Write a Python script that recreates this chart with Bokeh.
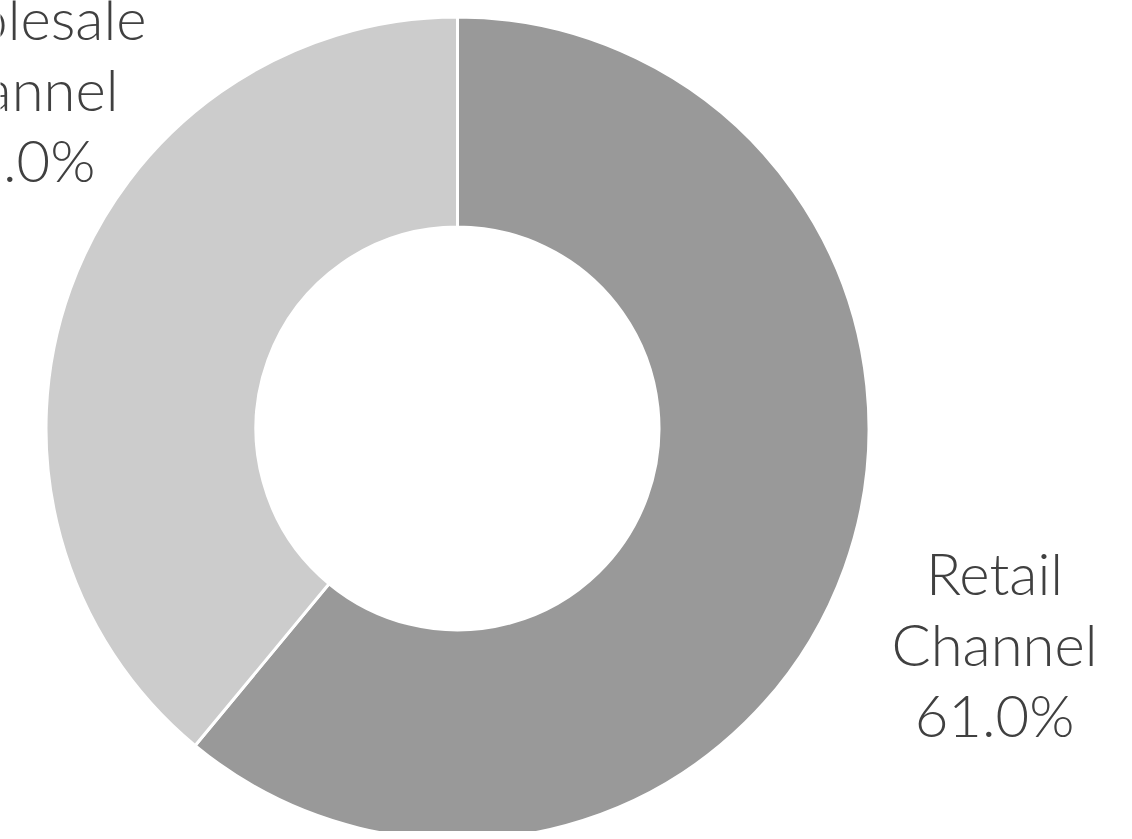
from bokeh.plotting import figure
from bokeh.models import Range1d, ColumnDataSource
from bokeh.core.properties import value
from bokeh.embed import file_html
from bokeh.resources import INLINE
import math

# ---- data ----
categories = ["Retail Channel", "Wholesale Channel"]
shares = [61.0, 39.0]
colors = ["#999999", "#cccccc"]

# ---- layout (screen-like coordinates) ----
W, H = 1124, 831
CX, CY_SCREEN = 457, 428
R_OUT, R_IN = 411.5, 201.5
LABEL_POS = [(994, 595), (15, 40)]   # first-line baseline, screen coords
LINE_STEP = 71
TEXT_DY = -23
FONT = "Lato Light"
FONT_SIZE = "58px"


def sy(y_screen):
    return H - y_screen


p = figure(width=W, height=H, output_backend="svg", toolbar_location=None,
           x_range=Range1d(0, W), y_range=Range1d(0, H),
           min_border=0, outline_line_color=None, background_fill_color="white",
           border_fill_color="white")
p.axis.visible = False
p.grid.visible = False

total = sum(shares)
start = math.pi / 2
starts, ends = [], []
for v in shares:
    sweep = 2 * math.pi * v / total
    ends.append(start)
    starts.append(start - sweep)
    start -= sweep

src = ColumnDataSource(dict(x=[CX] * len(shares), y=[sy(CY_SCREEN)] * len(shares),
                            start=starts, end=ends, color=colors))
p.annular_wedge(x="x", y="y", inner_radius=R_IN, outer_radius=R_OUT,
                start_angle="start", end_angle="end", fill_color="color",
                line_color="white", line_width=3, source=src)

tx, ty, tt = [], [], []
for cat, v, (lx, ly) in zip(categories, shares, LABEL_POS):
    lines = cat.split(" ") + [f"{v:.1f}%"]
    for i, line in enumerate(lines):
        tx.append(lx)
        ty.append(sy(ly + i * LINE_STEP + TEXT_DY))
        tt.append(line)

p.text(x=tx, y=ty, text=tt, text_align="center", text_baseline="alphabetic",
       text_font=value(FONT), text_font_size=FONT_SIZE, text_color="#404040")

open("out.html", "w").write(file_html(p, INLINE))
